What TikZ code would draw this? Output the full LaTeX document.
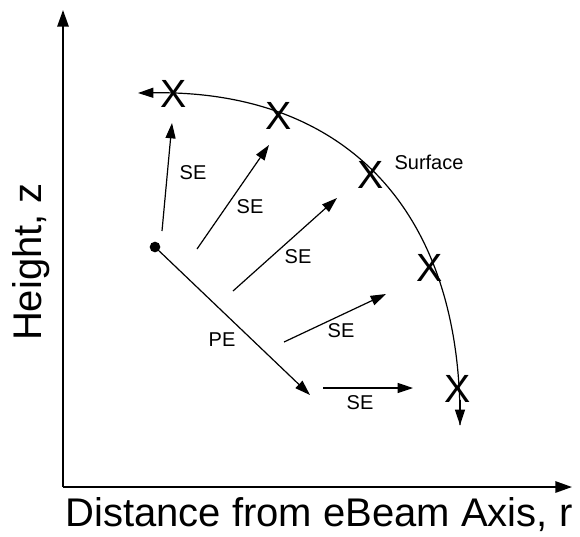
\documentclass[tikz,border=0pt]{standalone}
\usepackage{fontspec}
\setmainfont{Liberation Sans}
\usetikzlibrary{arrows.meta, positioning}

\begin{document}
\begin{tikzpicture}[
    x=0.75pt, y=-0.75pt,
    axis/.style={line width=1.4pt, -{Triangle[length=12.5pt, width=8.5pt]}},
    arr/.style={line width=0.9pt, -{Triangle[length=11.5pt, width=7.5pt]}},
    xmark/.style={font=\fontsize{29.5}{30}\selectfont, inner sep=0pt},
    lbl/.style={font=\fontsize{15}{16}\selectfont, inner sep=1pt},
    axlbl/.style={font=\fontsize{30}{34}\selectfont, inner sep=0pt},
]
    \useasboundingbox (0,0) rectangle (580,536);

    % axes
    \coordinate (origin) at (63,487);
    \coordinate (ztop) at (63,10);
    \coordinate (rend) at (572,487);
    \draw[axis] (origin) -- (ztop);
    \draw[axis] (origin) -- (rend);
    \node[axlbl] (rlabel) at (319,515) {Distance from eBeam Axis, r};
    \node[axlbl, rotate=90] (zlabel) at (31,262) {Height, z};

    % surface
    \coordinate (sleft) at (138,93);
    \coordinate (sbot) at (460,425);
    \draw[arr] (sbot) .. controls (462,210) and (345,90) .. (sleft);
    \draw[arr] (460,400) -- (sbot);
    \node[xmark] (x1) at (174,94) {X};
    \node[xmark] (x2) at (279,116) {X};
    \node[xmark] (x3) at (371,175) {X};
    \node[xmark] (x4) at (430,268) {X};
    \node[xmark] (x5) at (458,389) {X};
    \node[lbl] (surf) at (429,162) {Surface};

    % primary electron
    \node[circle, fill, inner sep=0pt, minimum size=8pt] (src) at (155,247) {};
    \coordinate (peend) at (310,395);
    \draw[arr] (src) -- (peend);
    \node[lbl] (pe) at (222,340) {PE};

    % secondary electrons
    \coordinate (se1a) at (162,231); \coordinate (se1b) at (172,123);
    \coordinate (se2a) at (197,249); \coordinate (se2b) at (269,145);
    \coordinate (se3a) at (233,291); \coordinate (se3b) at (337,198);
    \coordinate (se4a) at (284,342); \coordinate (se4b) at (386,294);
    \coordinate (se5a) at (323,388); \coordinate (se5b) at (413,388);
    \foreach \i in {1,...,5}
        \draw[arr] (se\i a) -- (se\i b);
    \node[lbl] (se1) at (193,173) {SE};
    \node[lbl] (se2) at (250,207) {SE};
    \node[lbl] (se3) at (298,257) {SE};
    \node[lbl] (se4) at (341,331) {SE};
    \node[lbl] (se5) at (360,403) {SE};
\end{tikzpicture}
\end{document}
